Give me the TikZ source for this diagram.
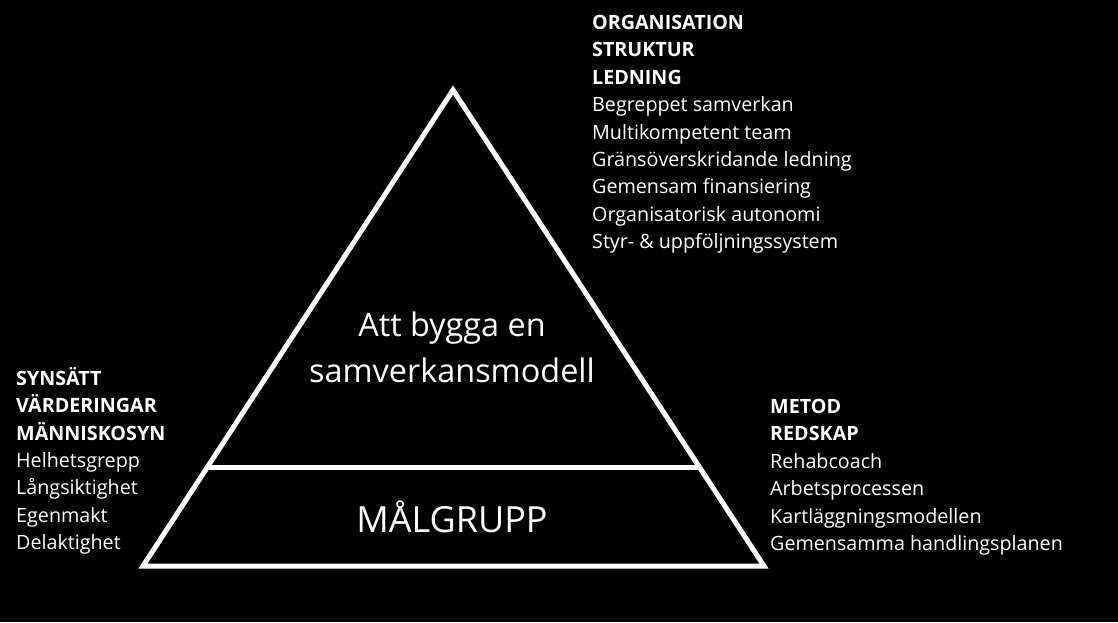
\documentclass[tikz,border=0pt]{standalone}
\usepackage{fontspec}
\setmainfont{Open Sans}
\usetikzlibrary{calc}
\tikzstyle{side} = [text=white, align=left, anchor=north west, inner sep=0pt, font=\fontsize{19.7}{27.4}\selectfont]
\tikzstyle{title} = [text=white, align=center, inner sep=0pt, font=\fontsize{32.4}{46}\selectfont]
\tikzstyle{edge} = [draw=white, line width=5pt]

\begin{document}
\begin{tikzpicture}[x=1pt, y=-1pt]
          \fill[black] (0,0) rectangle (1118,622);
          \coordinate (apex) at (453,90);
          \coordinate (bl) at (143,566);
          \coordinate (br) at (764,566);
          \coordinate (cutl) at ($(apex)!0.792!(bl)$);
          \coordinate (cutr) at ($(apex)!0.792!(br)$);

          \draw [edge] (apex) -- (br) -- (bl) -- cycle;
          \draw [edge] (cutl) -- (cutr);

          \node (model) [title] at (452,347) {Att bygga en\\samverkansmodell};
          \node (target) [title, anchor=base, font=\fontsize{36}{40}\selectfont] at (452,532) {MÅLGRUPP};

          \node (org) [side] at (592,15) {\textbf{ORGANISATION}\\\textbf{STRUKTUR}\\\textbf{LEDNING}\\Begreppet samverkan\\Multikompetent team\\Gränsöverskridande ledning\\Gemensam finansiering\\Organisatorisk autonomi\\Styr- \& uppföljningssystem};
          \node (view) [side] at (16,367) {\textbf{SYNSÄTT}\\\textbf{VÄRDERINGAR}\\\textbf{MÄNNISKOSYN}\\Helhetsgrepp\\Långsiktighet\\Egenmakt\\Delaktighet};
          \node (method) [side] at (770,399) {\textbf{METOD}\\\textbf{REDSKAP}\\Rehabcoach\\Arbetsprocessen\\Kartläggningsmodellen\\Gemensamma handlingsplanen};
        \end{tikzpicture}
\end{document}
